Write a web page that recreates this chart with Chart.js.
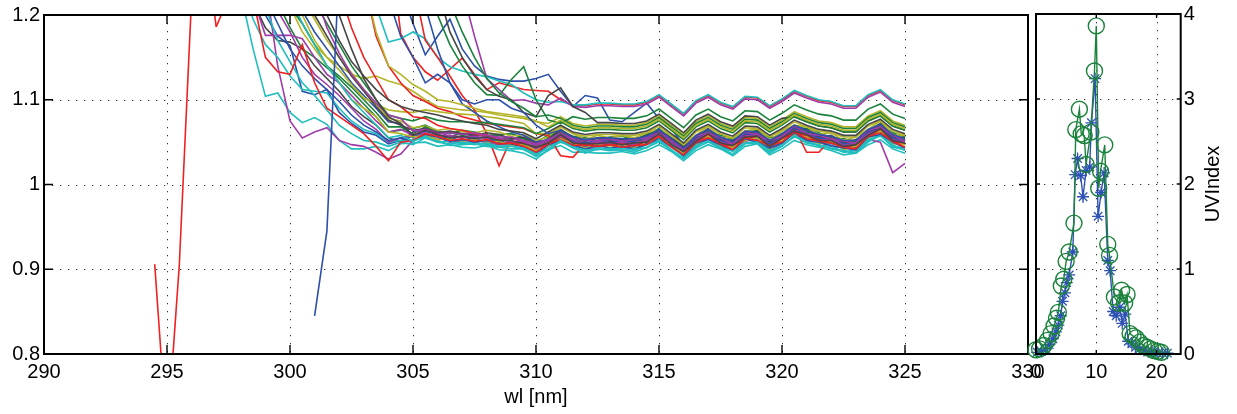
<!DOCTYPE html>
<html>
<head>
<meta charset="utf-8">
<title>wl / UVIndex</title>
<script src="https://cdn.jsdelivr.net/npm/chart.js@4.4.1/dist/chart.umd.min.js"></script>
<style>
  html, body { margin: 0; padding: 0; background: #fff; }
  #wrap { position: relative; width: 1237px; height: 414px; overflow: hidden; }
  #spectra { position: absolute; left: 0; top: 0; }
  #uvi { position: absolute; left: 1020px; top: 0; }
</style>
</head>
<body>
<div id="wrap">
  <canvas id="spectra" width="1060" height="414"></canvas>
  <canvas id="uvi" width="217" height="414"></canvas>
</div>
<script>
// ========================
// DATA - left panel (ratio spectra vs wavelength)
// ========================
const wl = [297,297.5,298,298.5,299,299.5,300,300.5,301,301.5,302,302.5,303,303.5,304,304.5,
  305,305.5,306,306.5,307,307.5,308,308.5,309,309.5,310,310.5,311,311.5,312,312.5,313,313.5,314,314.5,
  315,315.5,316,316.5,317,317.5,318,318.5,319,319.5,320,320.5,321,321.5,322,322.5,323,323.5,324,324.5,325];

const wlRed = [294.5,295,295.5,296,296.5,297];
const redStart = [0.906,0.7,0.905,1.22,1.3,1.186];

const s00 = [1.3,1.3,1.3,1.3,1.3,1.3,1.3,1.3,1.3,1.3,1.3,1.3,1.3,1.3,1.3,1.23,
  1.19,1.153,1.175,1.195,1.16,1.14,1.128,1.124,1.122,1.122,1.125,1.13,1.11,1.092,1.105,1.102,1.076,1.074,1.085,1.096,1.078,1.066,1.046,
  1.057,1.064,1.055,1.05,1.062,1.061,1.051,1.059,1.069,1.063,1.058,1.056,1.051,1.051,1.064,1.07,1.058,1.053];
const s01 = [1.3,1.3,1.29,1.27,1.25,1.215,1.185,1.16,1.15,1.138,1.125,1.11,1.095,1.08,1.062,1.064,
  1.066,1.07,1.063,1.06,1.064,1.062,1.058,1.059,1.06,1.055,1.05,1.058,1.062,1.057,1.055,1.052,1.056,1.057,1.053,1.059,1.066,1.055,1.046,1.057,1.063,1.058,1.053,1.061,1.064,1.055,1.058,1.068,1.066,1.061,1.055,1.054,1.051,1.063,1.072,1.061,1.056];
const s02 = [1.3,1.3,1.3,1.3,1.3,1.3,1.3,1.3,1.3,1.3,1.3,1.3,1.3,1.3,1.3,1.178,
  1.15,1.133,1.123,1.136,1.149,1.13,1.112,1.12,1.116,1.112,1.111,1.11,1.1,1.093,
  1.093,1.095,1.095,1.094,1.094,1.097,1.105,1.094,1.083,1.098,1.105,1.096,1.091,1.103,1.102,1.092,1.1,1.11,1.104,1.099,1.097,1.092,1.092,1.105,1.111,1.099,1.094];
const s03 = [1.3,1.3,1.3,1.3,1.3,1.3,1.3,1.3,1.3,1.3,1.3,1.3,1.3,1.21,1.168,1.172,
  1.18,1.172,1.15,1.139,1.134,1.13,1.127,1.122,1.118,1.108,1.1,1.097,1.098,1.094,
  1.094,1.096,1.096,1.095,1.095,1.098,1.106,1.095,1.084,1.099,1.106,1.097,1.092,1.104,1.103,1.093,1.101,1.111,1.105,1.1,1.098,1.093,1.093,1.106,1.112,1.1,1.095];
const s04 = [1.3,1.3,1.3,1.3,1.3,1.3,1.3,1.3,1.3,1.3,1.3,1.3,1.3,1.3,1.3,1.3,1.3,1.3,1.3,1.3,
  1.23,1.175,1.125,1.112,1.099,1.1,1.096,1.094,1.102,1.092,
  1.091,1.093,1.093,1.092,1.092,1.095,1.103,1.092,1.081,1.096,1.103,1.094,1.089,1.101,1.1,1.09,1.098,1.108,1.102,1.097,1.095,1.09,1.09,1.103,1.109,1.097,1.092];
const s05 = [1.3,1.3,1.3,1.3,1.28,1.24,1.21,1.19,1.165,1.15,1.14,1.13,1.125,1.128,1.122,1.118,
  1.11,1.1,1.092,1.09,1.088,1.087,1.085,1.082,1.08,1.078,1.074,
  1.072,1.08,1.072,1.069,1.071,1.071,1.07,1.07,1.073,1.081,1.07,1.059,1.074,1.081,1.072,1.067,1.079,1.078,1.068,1.076,1.086,1.08,1.075,1.073,1.068,1.068,1.081,1.087,1.075,1.07];
const s06 = [1.3,1.3,1.26,1.215,1.185,1.17,1.168,1.16,1.14,1.125,1.11,1.092,1.08,1.07,1.055,1.05,
  1.062,1.066,1.058,1.057,1.06,1.061,1.056,1.053,1.055,1.054,1.047,1.051,1.063,1.055,1.048,1.05,1.054,1.053,1.049,1.052,1.064,1.053,1.043,1.053,1.06,1.055,1.05,1.058,1.061,1.051,1.055,1.069,1.063,1.054,1.056,1.051,1.047,1.06,1.07,1.058,1.053];
const s07 = [1.3,1.3,1.3,1.3,1.3,1.27,1.23,1.205,1.18,1.16,1.14,1.12,1.105,1.09,1.074,1.072,
  1.055,1.063,1.059,1.053,1.052,1.056,1.055,1.05,1.048,1.05,1.043,1.047,1.059,1.05,1.044,1.047,1.05,1.048,1.045,1.052,1.056,1.049,1.038,1.05,1.059,1.047,1.046,1.055,1.053,1.047,1.051,1.065,1.055,1.053,1.048,1.047,1.043,1.057,1.066,1.05,1.049];
const s08 = [1.3,1.3,1.3,1.3,1.3,1.3,1.3,1.3,1.3,1.3,1.3,1.3,1.3,1.3,1.3,1.3,1.3,1.3,
  1.2,1.165,1.14,1.12,1.106,1.105,1.124,1.139,1.1,1.076,1.072,
  1.08,1.077,1.079,1.079,1.078,1.078,1.081,1.089,1.078,1.067,1.082,1.089,1.08,1.075,1.087,1.086,1.076,1.084,1.094,1.088,1.083,1.081,1.076,1.076,1.089,1.095,1.083,1.078];
const s09 = [1.3,1.3,1.3,1.3,1.3,1.3,1.3,1.3,1.3,1.3,1.3,1.3,1.3,1.3,1.3,1.3,
  1.24,1.17,1.15,1.128,1.105,1.088,1.06,1.022,1.055,1.05,1.043,
  1.05,1.058,1.05,1.047,1.049,1.049,1.048,1.048,1.051,1.059,1.048,1.037,1.052,1.059,1.05,1.045,1.057,1.056,1.046,1.054,1.064,1.058,1.053,1.051,1.046,1.046,1.059,1.065,1.053,1.048];
const s10 = [1.3,1.26,1.225,1.16,1.104,1.108,1.085,1.073,1.079,1.071,1.052,1.042,1.042,1.045,1.04,1.048,
  1.049,1.05,1.045,1.047,1.044,1.043,1.046,1.041,1.04,1.037,1.03,1.041,1.046,1.038,1.038,1.037,1.037,1.039,1.036,1.04,1.047,1.039,1.028,1.04,1.047,1.042,1.034,1.045,1.048,1.035,1.042,1.052,1.047,1.044,1.04,1.035,1.037,1.047,1.053,1.042,1.037];
const s11 = [1.3,1.29,1.27,1.25,1.24,1.14,1.075,1.055,1.062,1.067,1.052,1.047,1.045,1.038,1.03,1.036,
  1.052,1.06,1.056,1.05,1.051,1.053,1.049,1.047,1.049,1.046,1.036,1.045,1.056,1.047,1.041,1.044,1.047,1.045,1.042,1.048,1.053,1.046,1.035,1.046,1.056,1.044,1.043,1.051,1.054,1.04,1.049,1.061,1.052,1.05,1.045,1.044,1.04,1.053,1.05,1.014,1.025];
const s12 = [1.3,1.3,1.3,1.3,1.3,1.3,1.26,1.22,1.195,1.17,1.15,1.132,1.112,1.095,1.078,1.075,
  1.067,1.069,1.064,1.066,1.063,1.061,1.064,1.062,1.057,1.059,1.052,1.056,1.068,1.06,1.053,1.058,1.055,1.058,1.055,1.061,1.065,1.058,1.047,1.058,1.069,1.056,1.055,1.063,1.066,1.052,1.063,1.07,1.068,1.059,1.061,1.052,1.056,1.065,1.075,1.059,1.058];
const s13 = [1.3,1.3,1.3,1.3,1.3,1.3,1.3,1.3,1.3,1.3,1.3,1.3,1.3,1.3,1.3,1.3,1.3,1.3,
  1.23,1.18,1.15,1.128,1.112,1.104,1.1,1.085,1.08,1.105,1.114,1.092,1.085,
  1.073,1.073,1.072,1.072,1.075,1.083,1.072,1.061,1.076,1.083,1.074,1.069,1.081,1.08,1.07,1.078,
  1.08,1.074,1.069,1.067,1.062,1.062,1.075,1.081,1.069,1.064];
const s14 = [1.3,1.3,1.27,1.235,1.2,1.175,1.164,1.11,1.106,1.112,1.085,1.072,1.062,1.058,1.048,1.052,
  1.057,1.059,1.053,1.055,1.052,1.054,1.051,1.052,1.047,1.048,1.038,1.05,1.055,1.046,1.046,1.045,1.048,1.044,1.047,1.051,1.055,1.048,1.037,1.048,1.058,1.046,1.045,1.053,1.056,1.042,1.054,1.06,1.057,1.049,1.05,1.042,1.046,1.055,1.064,1.049,1.048];
const s15 = [1.3,1.3,1.3,1.3,1.28,1.24,1.21,1.19,1.165,1.14,1.128,1.115,1.1,1.085,1.068,1.068,
  1.06,1.068,1.061,1.062,1.058,1.06,1.057,1.058,1.053,1.055,1.044,1.055,1.064,1.052,1.053,1.051,1.055,1.05,1.054,1.053,1.066,1.05,1.043,1.055,1.064,1.052,1.051,1.06,1.062,1.048,1.059,1.066,1.064,1.055,1.057,1.048,1.052,1.061,1.07,1.055,1.054];
const s16 = [1.3,1.3,1.3,1.3,1.3,1.3,1.3,1.3,1.3,1.3,1.3,1.3,
  1.24,1.175,1.14,1.12,1.105,1.098,1.09,1.086,1.08,1.076,1.072,1.07,1.068,1.066,1.06,1.058,1.034,1.032,1.048,
  1.052,1.052,1.051,1.051,1.054,1.062,1.051,1.04,1.055,1.062,1.053,1.048,1.06,1.059,1.049,1.057,1.067,1.038,1.038,1.054,1.049,1.049,1.062,1.068,1.056,1.051];
const s17 = [1.3,1.3,1.24,1.195,1.165,1.15,1.128,1.112,1.11,1.108,1.09,1.075,1.065,1.06,1.05,1.052,
  1.053,1.055,1.05,1.051,1.048,1.05,1.047,1.045,1.046,1.041,1.034,1.045,1.05,1.045,1.039,1.044,1.041,1.043,1.04,1.047,1.051,1.044,1.033,1.044,1.054,1.042,1.041,1.049,1.051,1.038,1.047,1.056,1.053,1.045,1.046,1.038,1.041,1.051,1.06,1.045,1.043];
const s18 = [1.3,1.28,1.25,1.22,1.176,1.176,1.176,1.172,1.15,1.13,1.12,1.105,1.09,1.075,1.062,1.065,
  1.058,1.066,1.062,1.057,1.055,1.059,1.056,1.053,1.054,1.052,1.046,1.053,1.061,1.051,1.05,1.049,1.053,1.051,1.048,1.052,1.063,1.049,1.041,1.052,1.062,1.05,1.048,1.057,1.061,1.049,1.055,1.067,1.059,1.057,1.053,1.05,1.047,1.06,1.068,1.053,1.051];
const s19 = [1.3,1.3,1.3,1.3,1.3,1.27,1.235,1.2,1.17,1.15,1.135,1.118,1.102,1.095,1.088,1.086,
  1.085,1.088,1.086,1.084,1.083,1.082,1.08,1.078,1.075,1.072,1.06,
  1.06,1.068,1.06,1.057,1.059,1.059,1.058,1.058,1.061,1.069,1.058,1.047,1.062,1.069,1.06,1.055,1.067,1.066,1.056,1.064,1.074,1.068,1.063,1.061,1.056,1.056,1.069,1.075,1.063,1.058];
const s20 = [1.3,1.3,1.3,1.3,1.3,1.3,1.265,1.23,1.2,1.175,1.15,1.128,1.11,1.092,1.076,1.07,
  1.064,1.066,1.061,1.063,1.06,1.058,1.061,1.059,1.054,1.056,1.049,1.053,1.065,1.056,1.051,1.055,1.053,1.054,1.051,1.058,1.062,1.055,1.044,1.056,1.066,1.053,1.052,1.06,1.063,1.05,1.06,1.067,1.065,1.056,1.058,1.049,1.053,1.062,1.072,1.056,1.055];
const s21 = [1.3,1.3,1.3,1.3,1.3,1.3,1.3,1.3,1.3,1.3,1.3,1.3,1.3,1.3,
  1.22,1.175,1.15,1.12,1.13,1.12,1.095,1.085,1.075,1.068,1.062,1.058,1.05,
  1.053,1.06,1.051,1.049,1.052,1.051,1.05,1.051,1.054,1.062,1.05,1.04,1.055,1.062,1.052,1.048,1.06,1.058,1.048,1.057,1.066,1.061,1.055,1.053,1.048,1.049,1.062,1.067,1.055,1.051];
const s22 = [1.3,1.3,1.3,1.3,1.3,1.3,1.3,1.25,1.215,1.19,1.165,1.14,1.12,1.1,1.082,1.078,
  1.075,1.08,1.076,1.074,1.074,1.073,1.073,1.071,1.069,1.067,1.06,1.066,1.074,1.066,1.063,1.065,1.065,1.064,1.064,1.067,1.075,1.064,1.053,1.068,1.075,1.066,1.061,1.073,1.072,1.062,1.07,1.08,1.074,1.069,1.067,1.062,1.062,1.075,1.081,1.069,1.064];
const s23 = [1.3,1.3,1.3,1.3,1.3,1.3,1.3,1.3,1.3,1.3,
  1.23,1.185,1.15,1.125,1.1,1.092,1.08,1.078,1.07,1.066,1.064,1.06,1.058,1.054,1.05,1.048,
  1.041,1.049,1.057,1.049,1.046,1.048,1.048,1.047,1.047,1.05,1.058,1.047,1.036,1.051,1.058,1.049,1.044,1.056,1.055,1.045,1.053,1.063,1.057,1.052,1.05,1.045,1.045,1.058,1.064,1.052,1.047];
const s24 = [1.3,1.3,1.29,1.25,1.21,1.17,1.145,1.12,1.105,1.088,1.07,1.06,1.052,1.05,1.045,1.05,
  1.047,1.055,1.052,1.046,1.047,1.048,1.045,1.044,1.042,1.042,1.033,1.04,1.051,1.043,1.037,1.042,1.04,1.041,1.038,1.044,1.05,1.041,1.03,1.043,1.05,1.043,1.036,1.048,1.049,1.037,1.045,1.057,1.049,1.046,1.042,1.039,1.037,1.05,1.058,1.044,1.041];
const s25 = [1.3,1.3,1.3,1.27,1.24,1.205,1.18,1.15,1.13,1.118,1.105,1.09,1.075,1.065,1.05,1.055,
  1.059,1.061,1.057,1.058,1.055,1.057,1.054,1.055,1.05,1.051,1.041,1.052,1.057,1.053,1.047,1.051,1.048,1.05,1.047,1.054,1.058,1.051,1.04,1.051,1.061,1.049,1.048,1.056,1.059,1.045,1.056,1.063,1.06,1.052,1.054,1.046,1.049,1.058,1.067,1.052,1.05];
const s26 = [1.3,1.3,1.3,1.3,1.3,1.25,1.21,1.18,1.16,1.14,1.12,1.1,1.09,1.08,1.062,1.06,
  1.056,1.058,1.053,1.054,1.051,1.053,1.05,1.051,1.046,1.047,1.04,1.046,1.054,1.048,1.043,1.047,1.044,1.046,1.043,1.049,1.055,1.047,1.036,1.047,1.057,1.045,1.044,1.052,1.055,1.041,1.052,1.059,1.056,1.048,1.05,1.041,1.045,1.054,1.063,1.048,1.047];
const s27 = [1.3,1.3,1.3,1.3,1.3,1.3,1.3,1.3,1.24,1.2,1.17,1.145,1.128,1.112,1.1,1.092,
  1.088,1.085,1.082,1.078,1.075,1.072,1.07,
  1.065,1.063,1.061,1.054,1.062,1.07,1.062,1.059,1.061,1.061,1.06,1.06,1.063,1.071,1.06,1.049,1.064,1.071,1.062,1.057,1.069,1.068,1.058,1.066,1.076,1.07,1.065,1.063,1.058,1.058,1.071,1.077,1.065,1.06];
const s28 = [1.3,1.3,1.28,1.25,1.22,1.19,1.16,1.14,1.125,1.112,1.098,1.082,1.07,1.062,1.052,1.055,
  1.051,1.059,1.056,1.051,1.053,1.05,1.052,1.048,1.048,1.044,1.037,1.047,1.052,1.047,1.042,1.046,1.043,1.045,1.042,1.048,1.054,1.045,1.034,1.049,1.053,1.047,1.04,1.054,1.05,1.043,1.049,1.061,1.052,1.05,1.046,1.043,1.041,1.056,1.059,1.05,1.043];
const s29 = [1.3,1.3,1.3,1.3,1.3,1.3,1.3,1.3,1.3,1.3,1.3,1.3,1.3,1.3,1.3,1.3,1.3,1.3,1.3,
  1.215,1.18,1.15,1.125,1.108,1.098,1.09,1.08,1.082,
  1.078,1.07,1.067,1.069,1.069,1.068,1.068,1.071,1.079,1.068,1.057,1.072,1.079,1.07,1.065,1.077,1.076,1.066,1.074,1.084,1.078,1.073,1.071,1.066,1.066,1.079,1.085,1.073,1.068];
const s30 = [1.186,1.22,1.26,1.22,1.15,1.133,1.13,1.165,1.12,1.09,1.08,1.07,1.06,1.045,1.028,1.05,
  1.052,1.06,1.057,1.052,1.054,1.051,1.053,1.048,1.049,1.045,1.038,1.048,1.053,1.046,1.047,1.045,1.047,1.044,1.046,1.047,1.057,1.044,1.035,1.05,1.055,1.048,1.041,1.055,1.052,1.046,1.05,1.062,1.054,1.051,1.049,1.044,1.042,1.057,1.061,1.051,1.044];
const s31 = [1.3,1.3,1.3,1.3,1.3,1.26,1.222,1.19,1.165,1.14,1.12,1.1,1.085,1.07,1.055,1.058,
  1.051,1.057,1.05,1.048,1.05,1.047,1.049,1.045,1.045,1.043,1.036,1.042,1.052,1.044,1.041,1.041,1.043,1.04,1.042,1.043,1.053,1.04,1.031,1.046,1.051,1.044,1.039,1.049,1.05,1.04,1.046,1.058,1.05,1.047,1.043,1.04,1.038,1.053,1.057,1.047,1.04];
const s32 = [1.3,1.3,1.3,1.3,1.3,1.3,1.3,1.3,1.23,1.185,1.155,1.13,1.112,1.096,1.082,1.078,
  1.063,1.065,1.06,1.061,1.059,1.061,1.058,1.056,1.056,1.052,1.048,1.053,1.06,1.055,1.052,1.052,1.054,1.051,1.053,1.056,1.061,1.054,1.042,1.057,1.061,1.055,1.048,1.062,1.058,1.052,1.057,1.069,1.06,1.058,1.054,1.051,1.049,1.064,1.068,1.058,1.051];
const s33 = [1.3,1.3,1.3,1.3,1.3,1.3,1.3,1.3,1.3,1.3,1.3,1.3,
  1.24,1.18,1.14,1.13,1.118,1.11,1.1,1.098,1.094,1.09,1.086,1.084,1.082,1.08,1.075,
  1.068,1.076,1.068,1.065,1.067,1.067,1.066,1.066,1.069,1.077,1.066,1.055,1.07,1.077,1.068,1.063,1.075,1.074,1.064,1.072,1.082,1.076,1.071,1.069,1.064,1.064,1.077,1.083,1.071,1.066];
const s34 = [1.3,1.3,1.3,1.3,1.3,1.3,1.3,1.3,1.3,1.26,1.2,1.16,1.125,1.1,1.08,1.072,
  1.058,1.064,1.059,1.055,1.057,1.054,1.056,1.052,1.052,1.048,1.044,1.049,1.059,1.049,1.048,1.048,1.05,1.047,1.049,1.05,1.06,1.047,1.039,1.051,1.06,1.049,1.046,1.056,1.057,1.045,1.055,1.063,1.059,1.052,1.052,1.045,1.047,1.058,1.066,1.052,1.049];
const s35 = [null,null,null,null,null,null,null,null,
  0.845,0.945,1.26,1.3,1.3,1.3,1.3,1.3,1.3,1.21,1.16,1.12,1.1,1.095,1.1,1.1,1.09,1.085,1.07,1.06,
  1.064,1.056,1.053,1.055,1.055,1.054,1.054,1.057,1.065,1.054,1.043,1.058,1.065,1.056,1.051,1.063,1.062,1.052,1.06,1.07,1.064,1.059,1.057,1.052,1.052,1.065,1.071,1.059,1.054];

const spectra = [s00,s01,s02,s03,s04,s05,s06,s07,s08,s09,s10,s11,s12,s13,s14,s15,s16,s17,
  s18,s19,s20,s21,s22,s23,s24,s25,s26,s27,s28,s29,s30,s31,s32,s33,s34,s35];

const xTicks = [290,295,300,305,310,315,320,325,330];
const yTicks = [0.8,0.9,1,1.1,1.2];

// ========================
// DATA - right panel (UV index)
// ========================
const tCircle  = [0,0.6,1.3,1.9,2.5,3,3.4,3.7,4.2,4.6,5,5.5,6.3,6.6,7.2,7.5,8,8.3,9.1,9.7,10,10.4,10.7,11.4,11.9,12.2,13,13.7,14.2,14.7,15.1,15.6,16.1,16.6,17.2,17.8,18.4,19,19.6,20.2,20.8];
const uviCircle = [0.05,0.06,0.1,0.16,0.24,0.33,0.42,0.49,0.8,0.88,1.09,1.2,1.54,2.64,2.88,2.59,2.57,2.23,2.61,3.33,3.86,1.95,2.15,2.46,1.29,1.16,0.67,0.6,0.75,0.6,0.7,0.24,0.21,0.19,0.14,0.1,0.08,0.06,0.04,0.03,0.02];
const tStar  = [0.2,0.9,1.6,2.2,2.8,3.3,3.7,4.1,4.4,4.8,5.1,5.5,6.1,6.5,6.9,7.4,7.8,8.3,8.9,9.2,9.8,10.3,10.8,11.3,11.9,12.3,12.8,13.3,13.9,14.3,14.8,15.3,15.9,16.5,17.2,17.9,18.6,19.4,20.2,21,21.8];
const uviStar = [0.02,0.03,0.06,0.11,0.18,0.26,0.34,0.45,0.62,0.72,0.84,0.93,1.2,2.11,2.3,2.1,1.85,2.16,2.2,2.72,3.24,1.62,1.9,2.13,1.1,0.98,0.5,0.45,0.55,0.36,0.47,0.15,0.12,0.08,0.06,0.04,0.03,0.02,0.01,0.01,0.01];

const uvXTicks = [0,10,20];
const uvYTicks = [0,1,2,3,4];

// ========================
// STYLE
// ========================
const lineColors = ['#2d50aa','#1b823c','#ee2222','#20bebe','#a03caa','#b4b428','#464646'];
const FONT = '"Liberation Sans", Arial, Helvetica, sans-serif';
const tickFont = { family: FONT, size: 20, lineHeight: 1.1 };

// dotted grid + box + inward ticks, matlab style
function framePlugin(tickLen) {
    return {
        id: 'frame',
        beforeDatasetsDraw(chart) {
            const { ctx, chartArea: a, scales: { x, y } } = chart;
            ctx.save();
            ctx.strokeStyle = '#333';
            ctx.lineWidth = 1;
            ctx.setLineDash([1.3, 6.7]);
            ctx.beginPath();
            x.ticks.forEach(t => {
                const px = Math.round(x.getPixelForValue(t.value)) + 0.5;
                if (px > a.left + 2 && px < a.right - 2) { ctx.moveTo(px, a.top); ctx.lineTo(px, a.bottom); }
            });
            y.ticks.forEach(t => {
                const py = Math.round(y.getPixelForValue(t.value)) + 0.5;
                if (py > a.top + 2 && py < a.bottom - 2) { ctx.moveTo(a.left, py); ctx.lineTo(a.right, py); }
            });
            ctx.stroke();
            ctx.restore();
        },
        afterDraw(chart) {
            const { ctx, chartArea: a, scales: { x, y } } = chart;
            ctx.save();
            ctx.strokeStyle = '#000';
            ctx.lineWidth = 1.4;
            ctx.beginPath();
            x.ticks.forEach(t => {
                const px = x.getPixelForValue(t.value);
                ctx.moveTo(px, a.top); ctx.lineTo(px, a.top + tickLen);
                ctx.moveTo(px, a.bottom); ctx.lineTo(px, a.bottom - tickLen);
            });
            y.ticks.forEach(t => {
                const py = y.getPixelForValue(t.value);
                ctx.moveTo(a.left, py); ctx.lineTo(a.left + tickLen, py);
                ctx.moveTo(a.right, py); ctx.lineTo(a.right - tickLen, py);
            });
            ctx.stroke();
            ctx.lineWidth = 2;
            ctx.strokeRect(a.left, a.top, a.right - a.left, a.bottom - a.top);
            ctx.restore();
        }
    };
}

// ========================
// LEFT PANEL
// ========================
const specSets = spectra.map((s, i) => ({
    data: s.map((v, j) => ({ x: wl[j], y: v })),
    borderColor: lineColors[i % 7],
    borderWidth: 1.6,
    pointRadius: 0,
    fill: false,
    tension: 0,
    clip: 0,
    order: -i
}));
specSets.push({
    data: redStart.map((v, j) => ({ x: wlRed[j], y: v })),
    borderColor: lineColors[2],
    borderWidth: 1.6,
    pointRadius: 0,
    fill: false,
    tension: 0,
    clip: 0,
    order: -30
});

new Chart(document.getElementById('spectra'), {
    type: 'line',
    data: { datasets: specSets },
    plugins: [framePlugin(9)],
    options: {
        responsive: false,
        animation: false,
        devicePixelRatio: 1,
        events: [],
        layout: { padding: { top: 11, right: 32, left: 0, bottom: 0 } },
        plugins: { legend: { display: false }, tooltip: { enabled: false } },
        scales: {
            x: {
                type: 'linear', min: 290, max: 330,
                afterBuildTicks: s => { s.ticks = xTicks.map(v => ({ value: v })); },
                afterFit: s => { s.height = 60; },
                grid: { display: false, drawTicks: false },
                border: { display: false },
                ticks: { font: tickFont, color: '#000', padding: 7, maxRotation: 0, autoSkip: false },
                title: { display: true, text: 'wl [nm]', color: '#000', font: { family: FONT, size: 20 }, padding: { top: 0, bottom: 5 } }
            },
            y: {
                type: 'linear', min: 0.8, max: 1.2,
                afterBuildTicks: s => { s.ticks = yTicks.map(v => ({ value: v })); },
                afterFit: s => { s.width = 44; },
                grid: { display: false, drawTicks: false },
                border: { display: false },
                ticks: { font: tickFont, color: '#000', padding: 4, callback: v => String(v) }
            }
        }
    }
});

// ========================
// RIGHT PANEL
// ========================
const uvTitle = 'UVIndex';
const uvLabelPlugin = {
    id: 'uvLabel',
    afterDraw(chart) {
        const { ctx, chartArea: a } = chart;
        ctx.save();
        ctx.translate(193.5, (a.top + a.bottom) / 2);
        ctx.rotate(-Math.PI / 2);
        ctx.font = '20px ' + FONT;
        ctx.fillStyle = '#000';
        ctx.textAlign = 'center';
        ctx.textBaseline = 'middle';
        ctx.fillText(uvTitle, 0, 0);
        ctx.restore();
    }
};

new Chart(document.getElementById('uvi'), {
    type: 'line',
    data: {
        datasets: [
            {
                data: tStar.map((t, j) => ({ x: t, y: uviStar[j] })),
                borderColor: '#2d50b4',
                borderWidth: 1.4,
                pointStyle: 'star',
                pointRadius: 6,
                pointBorderWidth: 1.3,
                pointBorderColor: '#2d50b4',
                pointBackgroundColor: 'transparent',
                tension: 0,
                clip: false,
                order: 2
            },
            {
                data: tCircle.map((t, j) => ({ x: t, y: uviCircle[j] })),
                borderColor: '#1b823c',
                borderWidth: 1.4,
                pointStyle: 'circle',
                pointRadius: 8,
                pointBorderWidth: 1.4,
                pointBorderColor: '#1b823c',
                pointBackgroundColor: 'transparent',
                tension: 0,
                clip: false,
                order: 1
            }
        ]
    },
    plugins: [framePlugin(4), uvLabelPlugin],
    options: {
        responsive: false,
        animation: false,
        devicePixelRatio: 1,
        events: [],
        layout: { padding: { top: 11, right: 0, left: 16, bottom: 0 } },
        plugins: { legend: { display: false }, tooltip: { enabled: false } },
        scales: {
            x: {
                type: 'linear', min: 0, max: 24,
                afterBuildTicks: s => { s.ticks = uvXTicks.map(v => ({ value: v })); },
                afterFit: s => { s.height = 60; },
                grid: { display: false, drawTicks: false },
                border: { display: false },
                ticks: { font: tickFont, color: '#000', padding: 7, maxRotation: 0, autoSkip: false }
            },
            y: {
                type: 'linear', position: 'right', min: 0, max: 4,
                afterBuildTicks: s => { s.ticks = uvYTicks.map(v => ({ value: v })); },
                afterFit: s => { s.width = 56.3; },
                grid: { display: false, drawTicks: false },
                border: { display: false },
                ticks: { font: tickFont, color: '#000', padding: 3 }
            }
        }
    }
});
</script>
</body>
</html>
